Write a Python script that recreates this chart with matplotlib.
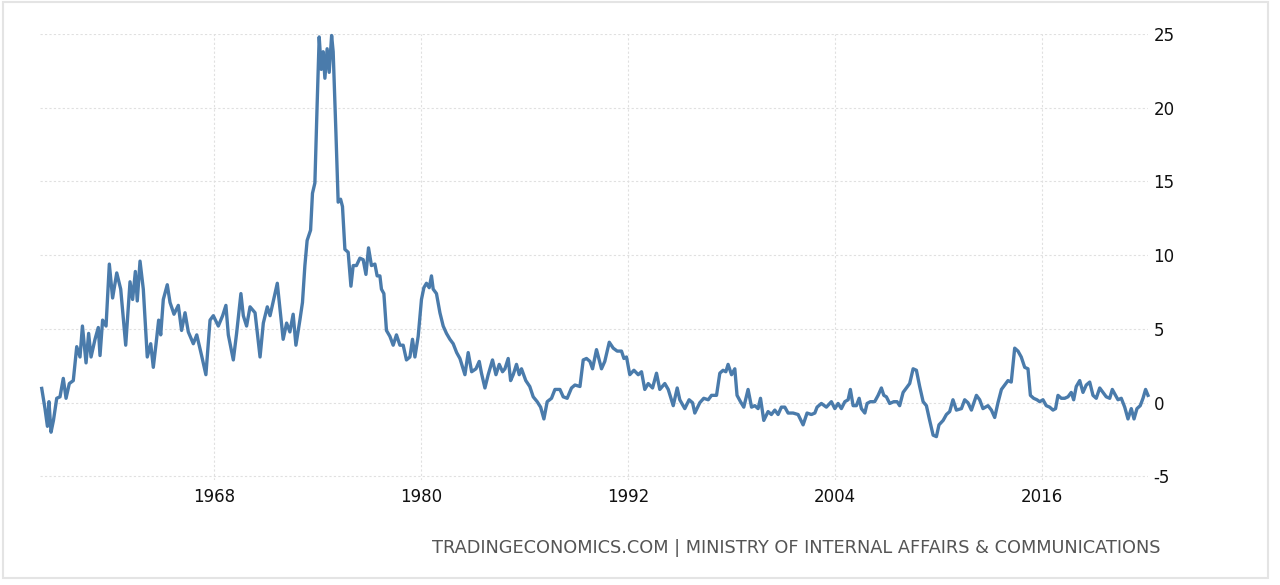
import matplotlib.pyplot as plt
from matplotlib.patches import Rectangle

# Japan inflation rate (decimal year, % yoy)
years = [
    1958.00, 1958.19, 1958.33, 1958.42, 1958.54, 1958.68, 1958.87, 1959.06, 1959.25, 1959.41,
    1959.60, 1959.83, 1960.03, 1960.22, 1960.36, 1960.57, 1960.72, 1960.86, 1961.09, 1961.28,
    1961.38, 1961.53, 1961.73, 1961.92, 1962.11, 1962.35, 1962.58, 1962.87, 1963.12, 1963.27,
    1963.43, 1963.54, 1963.70, 1963.89, 1964.12, 1964.32, 1964.47, 1964.63, 1964.78, 1964.90,
    1965.05, 1965.28, 1965.44, 1965.67, 1965.92, 1966.11, 1966.31, 1966.50, 1966.79, 1966.99,
    1967.27, 1967.52, 1967.76, 1967.95, 1968.24, 1968.49, 1968.68, 1968.82, 1969.11, 1969.30,
    1969.55, 1969.69, 1969.88, 1970.08, 1970.37, 1970.66, 1970.85, 1971.08, 1971.24, 1971.43,
    1971.66, 1972.00, 1972.20, 1972.39, 1972.58, 1972.74, 1972.97, 1973.12, 1973.26, 1973.39,
    1973.59, 1973.70, 1973.84, 1973.97, 1974.09, 1974.21, 1974.32, 1974.42, 1974.55, 1974.67,
    1974.81, 1974.90, 1975.06, 1975.19, 1975.33, 1975.44, 1975.58, 1975.77, 1975.93, 1976.06,
    1976.25, 1976.45, 1976.64, 1976.80, 1976.95, 1977.12, 1977.32, 1977.45, 1977.61, 1977.70,
    1977.84, 1977.99, 1978.19, 1978.38, 1978.57, 1978.77, 1978.96, 1979.15, 1979.35, 1979.50,
    1979.64, 1979.83, 1980.02, 1980.16, 1980.31, 1980.47, 1980.60, 1980.70, 1980.89, 1981.09,
    1981.28, 1981.47, 1981.67, 1981.86, 1982.06, 1982.25, 1982.54, 1982.73, 1982.93, 1983.18,
    1983.37, 1983.50, 1983.70, 1983.89, 1984.14, 1984.34, 1984.53, 1984.72, 1984.86, 1985.05,
    1985.19, 1985.34, 1985.53, 1985.69, 1985.82, 1986.07, 1986.30, 1986.50, 1986.73, 1986.93,
    1987.12, 1987.31, 1987.56, 1987.76, 1988.05, 1988.24, 1988.47, 1988.72, 1988.92, 1989.21,
    1989.40, 1989.59, 1989.79, 1989.94, 1990.17, 1990.46, 1990.65, 1990.91, 1991.14, 1991.37,
    1991.62, 1991.76, 1991.91, 1992.10, 1992.34, 1992.59, 1992.78, 1992.97, 1993.17, 1993.42,
    1993.65, 1993.84, 1994.13, 1994.33, 1994.62, 1994.85, 1995.00, 1995.29, 1995.54, 1995.74,
    1995.87, 1996.16, 1996.39, 1996.65, 1996.84, 1997.13, 1997.32, 1997.51, 1997.67, 1997.80,
    1998.00, 1998.19, 1998.32, 1998.52, 1998.71, 1998.96, 1999.16, 1999.35, 1999.54, 1999.68,
    1999.87, 2000.12, 2000.31, 2000.51, 2000.70, 2000.89, 2001.09, 2001.28, 2001.57, 2001.86,
    2002.15, 2002.38, 2002.63, 2002.83, 2002.96, 2003.21, 2003.50, 2003.79, 2003.99, 2004.18,
    2004.37, 2004.57, 2004.76, 2004.89, 2005.05, 2005.24, 2005.40, 2005.53, 2005.73, 2005.86,
    2006.05, 2006.30, 2006.50, 2006.69, 2006.83, 2006.98, 2007.17, 2007.41, 2007.60, 2007.75,
    2007.95, 2008.14, 2008.33, 2008.53, 2008.72, 2008.91, 2009.11, 2009.30, 2009.49, 2009.69,
    2009.88, 2010.03, 2010.27, 2010.46, 2010.65, 2010.84, 2011.04, 2011.33, 2011.52, 2011.71,
    2011.91, 2012.20, 2012.39, 2012.58, 2012.87, 2013.07, 2013.26, 2013.45, 2013.65, 2013.84,
    2014.03, 2014.22, 2014.42, 2014.61, 2014.80, 2015.00, 2015.19, 2015.33, 2015.52, 2015.71,
    2015.87, 2016.06, 2016.25, 2016.45, 2016.64, 2016.79, 2016.93, 2017.12, 2017.32, 2017.51,
    2017.70, 2017.84, 2017.99, 2018.19, 2018.38, 2018.57, 2018.77, 2018.96, 2019.15, 2019.35,
    2019.54, 2019.73, 2019.93, 2020.08, 2020.27, 2020.41, 2020.60, 2020.80, 2020.99, 2021.18,
    2021.34, 2021.51, 2021.70, 2021.86, 2022.01, 2022.15,
]
rates = [
    0.97, -0.4, -1.6, 0.07, -2.0, -1.2, 0.3, 0.4, 1.65, 0.3,
    1.3, 1.5, 3.8, 3.1, 5.2, 2.7, 4.7, 3.1, 4.3, 5.1,
    3.2, 5.6, 5.2, 9.4, 7.1, 8.8, 7.7, 3.9, 8.2, 7.0,
    8.9, 6.9, 9.6, 7.7, 3.1, 4.0, 2.4, 4.0, 5.6, 4.6,
    7.0, 8.0, 6.8, 6.0, 6.6, 4.9, 6.1, 4.8, 4.0, 4.6,
    3.2, 1.9, 5.6, 5.9, 5.2, 5.9, 6.6, 4.6, 2.9, 4.7,
    7.4, 5.9, 5.2, 6.5, 6.1, 3.1, 5.4, 6.5, 5.9, 6.9,
    8.1, 4.3, 5.4, 4.8, 6.0, 3.9, 5.6, 6.8, 9.3, 11.0,
    11.7, 14.2, 14.9, 20.2, 24.8, 22.6, 23.8, 22.0, 24.0, 22.4,
    24.9, 23.8, 18.3, 13.6, 13.8, 13.3, 10.4, 10.2, 7.9, 9.3,
    9.3, 9.8, 9.7, 8.7, 10.5, 9.3, 9.4, 8.6, 8.6, 7.7,
    7.4, 4.9, 4.5, 3.9, 4.6, 3.9, 3.9, 2.9, 3.1, 4.3,
    3.1, 4.5, 7.0, 7.8, 8.1, 7.8, 8.6, 7.7, 7.4, 6.1,
    5.2, 4.7, 4.3, 4.0, 3.4, 3.0, 1.9, 3.4, 2.1, 2.3,
    2.8, 2.0, 1.0, 1.9, 2.9, 1.9, 2.6, 2.1, 2.3, 3.0,
    1.5, 1.9, 2.6, 1.9, 2.3, 1.5, 1.1, 0.4, 0.07, -0.3,
    -1.1, 0.07, 0.3, 0.9, 0.9, 0.4, 0.3, 1.0, 1.2, 1.1,
    2.9, 3.0, 2.8, 2.3, 3.6, 2.3, 2.8, 4.1, 3.7, 3.5,
    3.5, 3.0, 3.1, 1.9, 2.2, 1.9, 2.1, 0.9, 1.3, 1.0,
    2.0, 0.9, 1.3, 0.9, -0.2, 1.0, 0.2, -0.4, 0.2, 0.0,
    -0.7, 0.0, 0.3, 0.2, 0.5, 0.5, 2.0, 2.2, 2.1, 2.6,
    1.9, 2.3, 0.5, 0.07, -0.3, 0.9, -0.3, -0.2, -0.4, 0.3,
    -1.2, -0.6, -0.8, -0.5, -0.8, -0.3, -0.3, -0.7, -0.7, -0.8,
    -1.5, -0.7, -0.8, -0.7, -0.3, -0.05, -0.3, 0.07, -0.4, -0.05,
    -0.4, 0.07, 0.2, 0.9, -0.2, -0.2, 0.3, -0.4, -0.7, -0.05,
    0.07, 0.07, 0.5, 1.0, 0.5, 0.4, -0.05, 0.07, 0.07, -0.2,
    0.7, 1.0, 1.3, 2.3, 2.2, 1.1, 0.07, -0.2, -1.2, -2.2,
    -2.3, -1.5, -1.2, -0.8, -0.6, 0.2, -0.5, -0.4, 0.2, 0.0,
    -0.5, 0.5, 0.2, -0.4, -0.2, -0.5, -1.0, 0.0, 0.9, 1.2,
    1.5, 1.4, 3.7, 3.5, 3.1, 2.4, 2.3, 0.5, 0.3, 0.2,
    0.07, 0.2, -0.2, -0.3, -0.5, -0.4, 0.5, 0.3, 0.3, 0.4,
    0.7, 0.2, 1.1, 1.5, 0.7, 1.2, 1.4, 0.5, 0.3, 1.0,
    0.7, 0.4, 0.3, 0.9, 0.5, 0.2, 0.3, -0.3, -1.1, -0.4,
    -1.1, -0.4, -0.2, 0.3, 0.9, 0.5,
]

xticks = [1968, 1980, 1992, 2004, 2016]
yticks = [-5, 0, 5, 10, 15, 20, 25]
source = "TRADINGECONOMICS.COM | MINISTRY OF INTERNAL AFFAIRS & COMMUNICATIONS"

fig = plt.figure(figsize=(12.8, 5.85), dpi=100)
fig.patch.set_facecolor("white")

# thin grey frame round the whole picture
fig.patches.append(Rectangle((3 / 1280, 7 / 585), 1265 / 1280, 576 / 585,
                             transform=fig.transFigure, fill=False,
                             edgecolor="#e4e4e4", linewidth=1.5))

ax = fig.add_axes([40 / 1280, 105 / 585, 1108 / 1280, 446 / 585])
ax.plot(years, rates, color="#4a7bab", linewidth=2.4, clip_on=False,
        solid_joinstyle="round")

ax.set_xlim(1957.9, 2022.15)
ax.set_ylim(-5.24, 25)
ax.set_xticks(xticks)
ax.set_xticklabels([str(y) for y in xticks])
ax.set_yticks(yticks)
ax.set_yticklabels([str(v) for v in yticks])
ax.yaxis.tick_right()
ax.tick_params(axis="both", length=0, labelsize=12, labelcolor="#111111")
ax.tick_params(axis="x", pad=6)
ax.tick_params(axis="y", pad=4)
for lbl in ax.get_yticklabels():
    lbl.set_horizontalalignment("left")

ax.grid(True, color="#e0e0e0", linestyle=(0, (2, 2)), linewidth=0.8)
ax.set_axisbelow(True)
for s in ax.spines.values():
    s.set_visible(False)

fig.text(1160 / 1280, 1 - 553 / 585, source, ha="right", va="baseline",
         fontsize=12.8, color="#555555")

fig.savefig("out.png", dpi=100)
